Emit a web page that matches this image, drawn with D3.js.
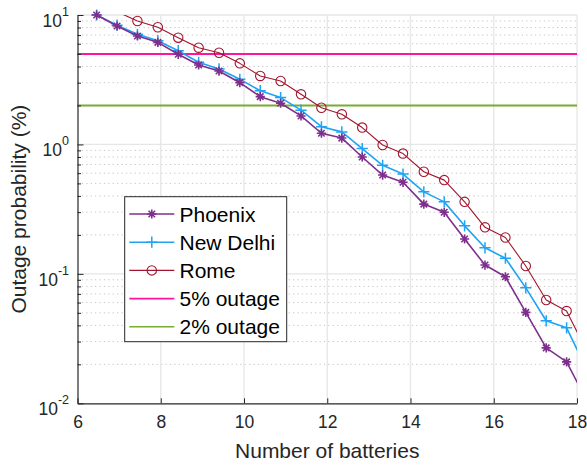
<!DOCTYPE html>
<html>
<head>
<meta charset="utf-8">
<script src="https://cdn.jsdelivr.net/npm/d3@7"></script>
<style>
  html, body { margin: 0; padding: 0; background: #fff; }
  svg { display: block; font-family: "Liberation Sans", Arial, Helvetica, sans-serif; }
</style>
</head>
<body>
<svg id="chart" width="587" height="468"></svg>
<script>
// Number of batteries (x) for every sample of the three locations
const batteries = [6.46, 6.95, 7.44, 7.93, 8.42, 8.91, 9.40, 9.90, 10.39, 10.88, 11.37, 11.86,
                   12.35, 12.84, 13.33, 13.82, 14.32, 14.81, 15.30, 15.79, 16.28, 16.77, 17.26, 17.75, 18.24];

// Outage probability in percent
const phoenix  = [10.0, 8.22, 6.88, 6.15, 4.97, 4.11, 3.69, 3.00, 2.34, 2.08, 1.66, 1.22,
                  1.12, 0.80, 0.58, 0.51, 0.346, 0.299, 0.186, 0.117, 0.095, 0.0504, 0.0268, 0.0209, 0.0104];
const newDelhi = [10.0, 8.35, 7.09, 6.33, 5.30, 4.31, 3.83, 3.19, 2.60, 2.30, 1.84, 1.37,
                  1.25, 0.93, 0.69, 0.59, 0.43, 0.36, 0.235, 0.159, 0.132, 0.078, 0.0434, 0.0383, 0.018];
const rome     = [12.2, 10.6, 8.99, 8.04, 6.68, 5.59, 5.11, 4.23, 3.38, 3.09, 2.44, 1.92,
                  1.71, 1.35, 0.99, 0.85, 0.615, 0.53, 0.36, 0.229, 0.191, 0.115, 0.0628, 0.0516, 0.025];

// Outage thresholds (%)
const thresholds = [5, 2];

const xTicks = [6, 8, 10, 12, 14, 16, 18];
const yDecades = [0.01, 0.1, 1, 10];
const yTickExponents = ["-2", "-1", "0", "1"];

const seriesNames = ["Phoenix", "New Delhi", "Rome"];
const thresholdNames = ["5% outage", "2% outage"];

const svg = d3.select("#chart");
const plotLeft = 77.5, plotRight = 577, plotTop = 15, plotBottom = 403.3;

const x = d3.scaleLinear().domain([6, 18]).range([plotLeft, plotRight]);
const y = d3.scaleLog().domain([0.01, 10]).range([plotBottom, plotTop]);

const axisColor = "#262626";

// Grid: minor dotted, major solid
const minorVals = y.ticks().filter(v => !yDecades.some(d => Math.abs(d - v) / d < 1e-6));
svg.append("g").selectAll("line").data(minorVals).join("line")
  .attr("x1", plotLeft).attr("x2", plotRight)
  .attr("y1", d => y(d)).attr("y2", d => y(d))
  .attr("stroke", "#c4c4c4").attr("stroke-width", 1)
  .attr("stroke-dasharray", "1.2,3.2");

svg.append("g").selectAll("line").data(yDecades.slice(1)).join("line")
  .attr("x1", plotLeft).attr("x2", plotRight)
  .attr("y1", d => y(d)).attr("y2", d => y(d))
  .attr("stroke", "#e6e6e6").attr("stroke-width", 1.3);

svg.append("g").selectAll("line").data(xTicks.slice(1)).join("line")
  .attr("x1", d => x(d)).attr("x2", d => x(d))
  .attr("y1", plotTop).attr("y2", plotBottom)
  .attr("stroke", "#e6e6e6").attr("stroke-width", 1.3);

// Clip region for the data lines
svg.append("defs").append("clipPath").attr("id", "plotClip")
  .append("rect").attr("x", plotLeft).attr("y", plotTop)
  .attr("width", plotRight - plotLeft).attr("height", plotBottom - plotTop);

const plot = svg.append("g");

// Threshold lines
const thresholdColors = ["#ff14a0", "#77ac30"];
plot.selectAll("line.thr").data(thresholds).join("line")
  .attr("class", "thr")
  .attr("x1", plotLeft).attr("x2", plotRight)
  .attr("y1", d => y(d)).attr("y2", d => y(d))
  .attr("stroke", (d, i) => thresholdColors[i]).attr("stroke-width", 2);

// Series definitions
const series = [
  { name: seriesNames[0], values: phoenix,  color: "#7e2f8e", width: 1.6, marker: "star" },
  { name: seriesNames[1], values: newDelhi, color: "#1fa4f5", width: 1.6, marker: "plus" },
  { name: seriesNames[2], values: rome,     color: "#a2142f", width: 1.1, marker: "circle" }
];

const line = d3.line().x(d => x(d[0])).y(d => y(d[1]));

function markerPath(type, r) {
  if (type === "star") {
    const a = r * 0.7071;
    return `M${-r},0L${r},0M0,${-r}L0,${r}M${-a},${-a}L${a},${a}M${-a},${a}L${a},${-a}`;
  }
  return `M${-r},0L${r},0M0,${-r}L0,${r}`;
}

function drawMarker(g, type, color, cx, cy) {
  if (type === "circle") {
    g.append("circle").attr("cx", cx).attr("cy", cy).attr("r", 4.7)
      .attr("fill", "none").attr("stroke", color).attr("stroke-width", 1.1);
  } else {
    const r = type === "star" ? 4.6 : 5.6;
    g.append("path").attr("d", markerPath(type, r))
      .attr("transform", `translate(${cx},${cy})`)
      .attr("fill", "none").attr("stroke", color)
      .attr("stroke-width", type === "star" ? 1.6 : 1.5);
  }
}

// Draw in reverse so Phoenix sits on top
[...series].reverse().forEach(s => {
  const pts = batteries.map((b, i) => [b, s.values[i]]);
  plot.append("path").datum(pts)
    .attr("clip-path", "url(#plotClip)")
    .attr("d", line)
    .attr("fill", "none").attr("stroke", s.color)
    .attr("stroke-width", s.width).attr("stroke-linejoin", "round");
  const mg = plot.append("g");
  pts.filter(p => p[0] >= 6 && p[0] <= 18 && p[1] >= 0.01 && p[1] <= 10.0001)
    .forEach(p => drawMarker(mg, s.marker, s.color, x(p[0]), y(p[1])));
});

// X axis
const xAxis = d3.axisBottom(x).tickValues(xTicks).tickSizeInner(-5).tickSizeOuter(0).tickPadding(12);
const gx = svg.append("g").attr("transform", `translate(0,${plotBottom})`).call(xAxis);
gx.select(".domain").attr("stroke", axisColor).attr("stroke-width", 1.2);
gx.selectAll(".tick line").attr("stroke", axisColor).attr("stroke-width", 1);
gx.selectAll(".tick text").attr("font-size", 17.5).attr("fill", axisColor)
  .attr("font-family", "Liberation Sans, Arial, sans-serif");

// Y axis: major ticks
const yAxis = d3.axisLeft(y).tickValues(yDecades).tickSizeInner(-6).tickSizeOuter(0).tickFormat("");
const gy = svg.append("g").attr("transform", `translate(${plotLeft},0)`).call(yAxis);
gy.select(".domain").attr("stroke", axisColor).attr("stroke-width", 1.2);
gy.selectAll(".tick line").attr("stroke", axisColor).attr("stroke-width", 1);

// Y axis: minor ticks
const yMinor = d3.axisLeft(y).tickValues(minorVals).tickSizeInner(-3.5).tickSizeOuter(0).tickFormat("");
const gym = svg.append("g").attr("transform", `translate(${plotLeft},0)`).call(yMinor);
gym.select(".domain").remove();
gym.selectAll(".tick line").attr("stroke", axisColor).attr("stroke-width", 1);

// Y tick labels as powers of ten
const yl = svg.append("g").attr("fill", axisColor);
yDecades.forEach((d, i) => {
  const t = yl.append("text").attr("x", 69).attr("y", y(d) + 12)
    .attr("text-anchor", "end").attr("font-size", 17.5);
  t.append("tspan").text("10");
  t.append("tspan").attr("dy", -11).attr("font-size", 12.5).text(yTickExponents[i]);
});

// Axis titles
svg.append("text").attr("x", (plotLeft + plotRight) / 2).attr("y", 458)
  .attr("text-anchor", "middle").attr("font-size", 21).attr("fill", axisColor)
  .text("Number of batteries");
svg.append("text").attr("transform", `translate(26,${(plotTop + plotBottom) / 2}) rotate(-90)`)
  .attr("text-anchor", "middle").attr("font-size", 21).attr("fill", axisColor)
  .text("Outage probability (%)");

// Legend
const legend = svg.append("g");
legend.append("rect").attr("x", 124.7).attr("y", 196.7).attr("width", 162).attr("height", 145)
  .attr("fill", "#fff").attr("stroke", "#262626").attr("stroke-width", 1);

const legendItems = [
  ...series.map(s => ({ name: s.name, color: s.color, width: s.width, marker: s.marker })),
  ...thresholdNames.map((n, i) => ({ name: n, color: thresholdColors[i], width: 1.6, marker: null }))
];
legendItems.forEach((it, i) => {
  const cy = 214 + i * 28.2;
  legend.append("line").attr("x1", 129.3).attr("x2", 174.3).attr("y1", cy).attr("y2", cy)
    .attr("stroke", it.color).attr("stroke-width", it.width);
  if (it.marker) drawMarker(legend, it.marker, it.color, 151.8, cy);
  legend.append("text").attr("x", 179.5).attr("y", cy + 7.5)
    .attr("font-size", 21).attr("fill", "#000").text(it.name);
});
</script>
</body>
</html>
